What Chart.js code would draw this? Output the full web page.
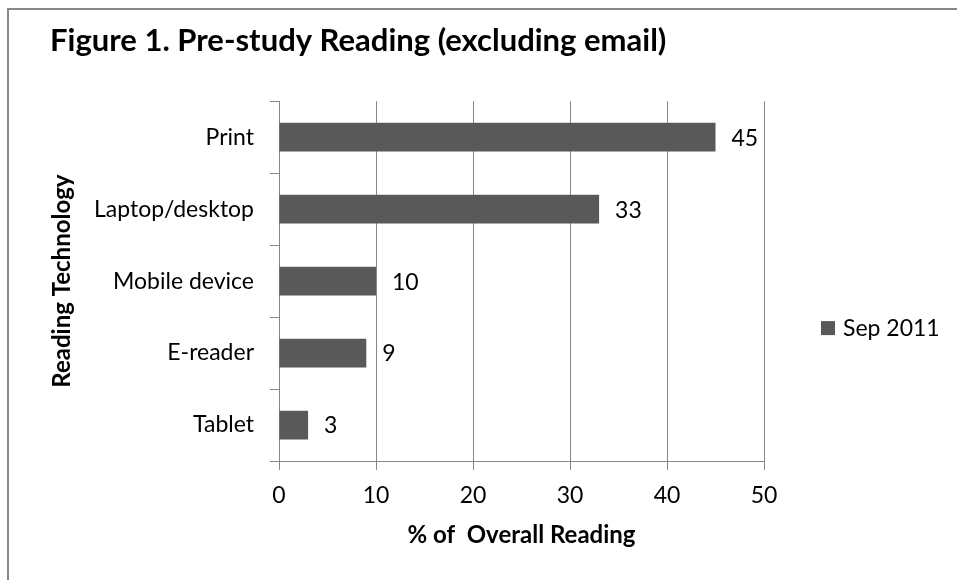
<!DOCTYPE html>
<html>
<head>
<meta charset="utf-8">
<script src="https://cdn.jsdelivr.net/npm/chart.js@4.4.0/dist/chart.umd.min.js"></script>
<style>
  body { margin: 0; background: #fff; }
  #wrap { position: relative; width: 957px; height: 580px; overflow: hidden; }
  #frame { position: absolute; left: 7px; top: 8px; right: -10px; bottom: -10px;
           border-left: 2px solid #878787; border-top: 2px solid #878787; }
  canvas { position: absolute; left: 0; top: 0; }
</style>
</head>
<body>
<div id="wrap">
  <div id="frame"></div>
  <canvas id="readingChart" width="957" height="580"></canvas>
</div>
<script>
const categories = ['Print', 'Laptop/desktop', 'Mobile device', 'E-reader', 'Tablet'];
const sep2011 = [45, 33, 10, 9, 3];
const xTicks = [0, 10, 20, 30, 40, 50];
const seriesName = 'Sep 2011';

const FONT = 'Lato, "Open Sans", sans-serif';
const ink = '#000';
const rule = '#868686';
const barFill = '#595959';

// value printed just past the end of each bar
const valueLabels = {
  id: 'valueLabels',
  afterDatasetsDraw(chart) {
    const ctx = chart.ctx;
    ctx.save();
    ctx.font = '23px ' + FONT;
    ctx.fillStyle = ink;
    ctx.textAlign = 'left';
    ctx.textBaseline = 'middle';
    chart.data.datasets.forEach((ds, di) => {
      chart.getDatasetMeta(di).data.forEach((bar, i) => {
        ctx.fillText(String(ds.data[i]), bar.x + 16, bar.y + 1);
      });
    });
    ctx.restore();
  }
};

// single-entry legend to the right of the plot, a little below its middle
const sideLegend = {
  id: 'sideLegend',
  afterDraw(chart) {
    const ctx = chart.ctx;
    const area = chart.chartArea;
    const ds = chart.data.datasets[0];
    const x = area.right + 57;
    const y = (area.top + area.bottom) / 2 + 47;
    ctx.save();
    ctx.fillStyle = ds.backgroundColor;
    ctx.fillRect(x, y - 7, 14, 14);
    ctx.font = '23px ' + FONT;
    ctx.fillStyle = ink;
    ctx.textBaseline = 'middle';
    ctx.fillText(ds.label, x + 22, y);
    ctx.restore();
  }
};

new Chart('readingChart', {
  type: 'bar',
  data: {
    labels: categories,
    datasets: [{
      label: seriesName,
      data: sep2011,
      backgroundColor: barFill,
      borderWidth: 0,
      categoryPercentage: 1,
      barPercentage: 0.4
    }]
  },
  options: {
    indexAxis: 'y',
    responsive: false,
    animation: false,
    layout: { padding: { left: 50, right: 193, top: 0, bottom: 0 } },
    plugins: {
      legend: { display: false },
      tooltip: { enabled: false },
      title: {
        display: true,
        text: 'Figure 1. Pre-study Reading (excluding email)',
        align: 'start',
        color: ink,
        font: { family: FONT, size: 31, weight: 'bold' },
        padding: { top: 22, bottom: 42 }
      }
    },
    scales: {
      x: {
        min: 0,
        max: 50,
        afterBuildTicks: s => { s.ticks = xTicks.map(v => ({ value: v })); },
        afterFit: s => { s.height = 119; },
        ticks: { color: ink, font: { family: FONT, size: 23 }, padding: 12 },
        grid: { color: rule, tickLength: 9 },
        border: { color: rule },
        title: {
          display: true,
          text: '% of  Overall Reading',
          color: ink,
          font: { family: FONT, size: 24, weight: 'bold' },
          padding: { top: 0, bottom: 30 }
        }
      },
      y: {
        afterFit: s => { s.width = 229; },
        ticks: { color: ink, font: { family: FONT, size: 23 }, padding: 16 },
        grid: { drawOnChartArea: false, color: rule, tickLength: 9, offset: true },
        border: { color: rule },
        title: {
          display: true,
          text: 'Reading Technology',
          color: ink,
          font: { family: FONT, size: 24, weight: 'bold' },
          padding: { top: -2, bottom: 0 }
        }
      }
    }
  },
  plugins: [valueLabels, sideLegend]
});
</script>
</body>
</html>
